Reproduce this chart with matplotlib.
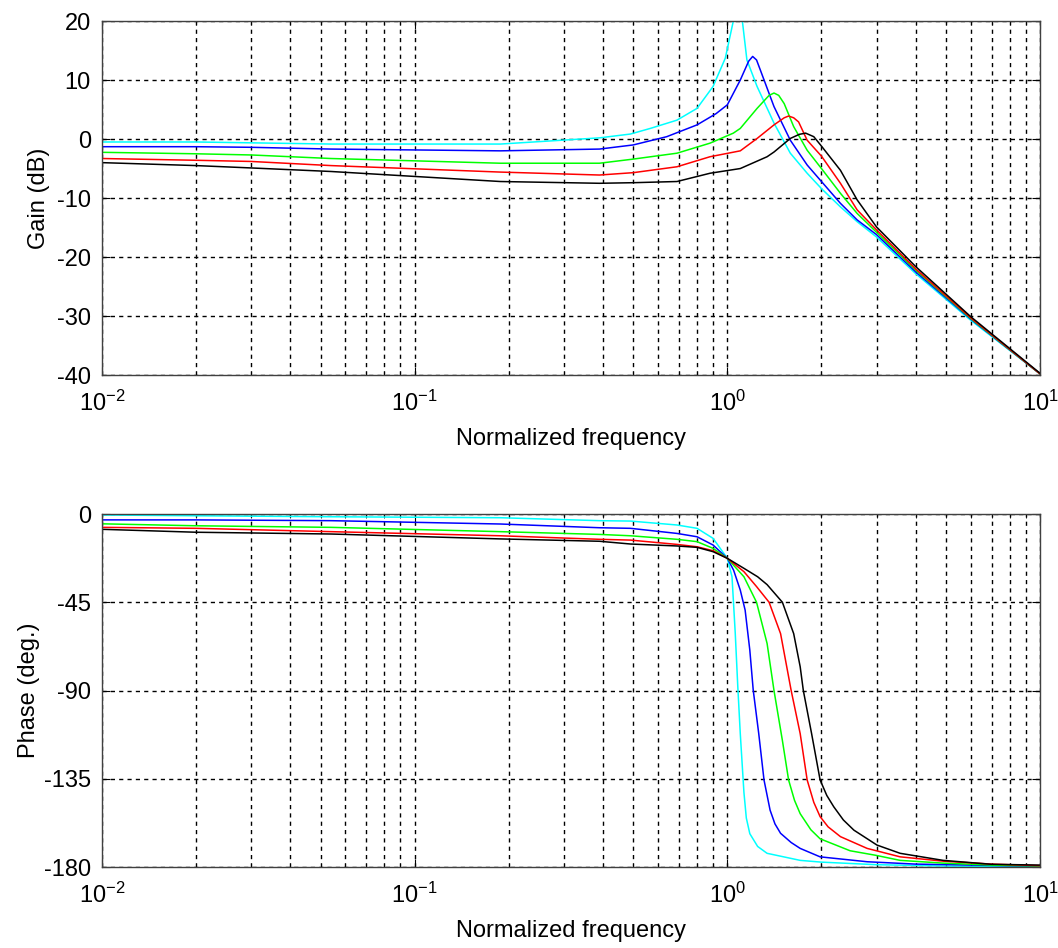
import matplotlib
matplotlib.use('Agg')
import matplotlib.pyplot as plt
from matplotlib.ticker import LogLocator, FixedLocator

plt.rcParams['font.family'] = ['Liberation Sans', 'DejaVu Sans']
plt.rcParams['mathtext.fontset'] = 'custom'
plt.rcParams['mathtext.rm'] = 'Liberation Sans'
plt.rcParams['mathtext.it'] = 'Liberation Sans'
plt.rcParams['axes.unicode_minus'] = False

# Gain curves (normalized frequency, dB)
cyan_gf = [0.01, 0.02, 0.054, 0.188, 0.39, 0.49, 0.567, 0.69, 0.80, 0.90, 0.985, 1.045, 1.08, 1.117,
           1.155, 1.245, 1.41, 1.59, 1.80, 2.0, 2.30, 2.60, 3.0, 4.0, 6.0, 10.0]
cyan_g = [-0.5, -0.5, -0.85, -0.85, 0.2, 0.85, 1.8, 3.2, 5.2, 8.9, 13.7, 20.0, 28.0, 20.0,
          13.4, 8.9, 2.7, -2.4, -5.8, -8.4, -11.5, -14.0, -16.6, -22.8, -30.7, -39.8]

blue_gf = [0.01, 0.02, 0.03, 0.054, 0.188, 0.39, 0.50, 0.64, 0.80, 0.92, 1.0, 1.10, 1.17, 1.205, 1.24,
           1.275, 1.41, 1.59, 1.80, 2.0, 2.30, 2.60, 3.0, 4.0, 6.0, 10.0]
blue_g = [-1.3, -1.3, -1.4, -1.7, -2.0, -1.7, -1.0, 0.4, 2.4, 4.3, 5.8, 10.0, 13.2, 14.0, 13.4,
          11.7, 5.5, -0.2, -4.4, -7.2, -10.9, -13.7, -16.2, -22.5, -30.5, -39.8]

green_gf = [0.01, 0.02, 0.03, 0.054, 0.188, 0.39, 0.50, 0.69, 0.88, 1.045, 1.10, 1.245, 1.36, 1.41, 1.46,
            1.52, 1.63, 1.80, 2.0, 2.30, 2.60, 3.0, 4.0, 6.0, 10.0]
green_g = [-2.25, -2.5, -2.7, -3.3, -4.1, -4.1, -3.4, -2.4, -0.7, 1.0, 1.8, 5.2, 7.4, 7.8, 7.4,
           6.0, 2.1, -1.9, -5.0, -9.2, -12.6, -15.8, -22.2, -30.4, -39.8]

red_gf = [0.01, 0.02, 0.03, 0.054, 0.188, 0.39, 0.50, 0.69, 0.88, 1.10, 1.245, 1.41, 1.52, 1.57, 1.63,
          1.69, 1.80, 2.0, 2.30, 2.60, 3.0, 4.0, 6.0, 10.0]
red_g = [-3.3, -3.6, -3.8, -4.5, -5.6, -6.1, -5.7, -4.7, -3.0, -2.0, 0.1, 2.4, 3.6, 3.9, 3.6,
         2.9, -0.2, -2.9, -7.5, -12.0, -15.4, -22.0, -30.3, -39.8]

black_gf = [0.01, 0.02, 0.03, 0.054, 0.188, 0.39, 0.50, 0.69, 0.88, 1.10, 1.34, 1.41, 1.59, 1.70, 1.78,
            1.89, 2.0, 2.30, 2.60, 3.0, 4.0, 6.0, 10.0]
black_g = [-4.0, -4.5, -4.9, -5.5, -7.2, -7.5, -7.4, -7.2, -5.8, -5.0, -3.0, -2.2, 0.1, 0.8, 1.0,
           0.4, -1.2, -5.3, -10.3, -14.9, -21.6, -30.1, -39.7]

# Phase curves (normalized frequency, degrees)
cyan_pf = [0.01, 0.02, 0.054, 0.188, 0.39, 0.49, 0.69, 0.80, 0.90, 1.0, 1.035, 1.06, 1.08, 1.10,
           1.13, 1.15, 1.18, 1.25, 1.34, 1.71, 2.0, 3.0, 5.0, 10.0]
cyan_p = [-0.5, -0.9, -1.4, -1.9, -3.4, -3.6, -5.6, -7.3, -12.4, -22.6, -32.0, -60.8, -88.0, -112.0,
          -142.0, -155.0, -163.0, -169.5, -173.0, -176.6, -177.5, -178.8, -179.5, -179.8]

blue_pf = [0.01, 0.02, 0.054, 0.188, 0.39, 0.49, 0.69, 0.80, 0.90, 1.0, 1.047, 1.10, 1.14, 1.18,
           1.21, 1.26, 1.31, 1.37, 1.42, 1.48, 1.60, 1.71, 1.98, 2.8, 4.0, 10.0]
blue_p = [-3.0, -3.0, -3.4, -5.1, -7.0, -7.3, -9.9, -11.6, -15.8, -22.6, -28.6, -38.8, -49.0, -69.4,
          -89.8, -111.9, -135.6, -151.0, -158.0, -162.8, -167.5, -170.5, -174.8, -177.3, -178.5, -179.6]

green_pf = [0.01, 0.02, 0.054, 0.188, 0.39, 0.49, 0.69, 0.80, 0.90, 1.0, 1.13, 1.24, 1.34, 1.41,
            1.50, 1.57, 1.64, 1.71, 1.85, 1.98, 2.47, 2.98, 3.57, 4.9, 7.0, 10.0]
green_p = [-5.0, -6.0, -6.8, -9.0, -10.4, -11.1, -12.9, -14.1, -17.5, -22.6, -32.0, -45.0, -66.0, -90.0,
           -115.5, -135.6, -146.0, -152.8, -161.0, -165.6, -171.7, -174.0, -176.6, -178.0, -179.0, -179.5]

red_pf = [0.01, 0.02, 0.054, 0.188, 0.39, 0.49, 0.69, 0.80, 0.90, 1.0, 1.13, 1.24, 1.36, 1.48,
          1.60, 1.71, 1.80, 1.89, 1.98, 2.10, 2.30, 2.80, 3.57, 4.9, 7.0, 10.0]
red_p = [-6.8, -7.3, -9.0, -11.1, -12.9, -13.3, -15.5, -16.7, -18.7, -22.6, -29.4, -37.0, -45.0, -61.0,
         -90.0, -112.0, -135.6, -147.0, -154.3, -159.5, -164.5, -170.5, -174.8, -177.0, -178.5, -179.3]

black_pf = [0.01, 0.02, 0.054, 0.188, 0.39, 0.49, 0.69, 0.80, 0.90, 1.0, 1.13, 1.25, 1.34, 1.50, 1.63,
            1.71, 1.75, 1.86, 1.98, 2.08, 2.19, 2.35, 2.54, 3.01, 3.57, 4.9, 7.0, 10.0]
black_p = [-7.8, -9.3, -10.2, -12.7, -13.9, -15.3, -16.3, -17.0, -19.2, -22.6, -27.7, -32.0, -36.0, -45.0, -61.0,
           -77.9, -90.0, -112.0, -135.6, -143.5, -149.3, -156.0, -161.2, -168.8, -173.0, -176.6, -178.6, -179.0]

gain_curves = [(cyan_gf, cyan_g, 'cyan'), (blue_gf, blue_g, 'blue'), (green_gf, green_g, '#00ff00'),
               (red_gf, red_g, 'red'), (black_gf, black_g, 'black')]
phase_curves = [(cyan_pf, cyan_p, 'cyan'), (blue_pf, blue_p, 'blue'), (green_pf, green_p, '#00ff00'),
                (red_pf, red_p, 'red'), (black_pf, black_p, 'black')]

gain_ticks = [-40, -30, -20, -10, 0, 10, 20]
phase_ticks = [-180, -135, -90, -45, 0]

fig = plt.figure(figsize=(10.58, 9.48), dpi=100)
ax1 = fig.add_axes([0.0964, 0.6044, 0.8866, 0.3734])
ax2 = fig.add_axes([0.0964, 0.0854, 0.8866, 0.3724])


def style_axis(ax, yticks, ylabel, ylabel_x):
    ax.set_xscale('log')
    ax.set_xlim(0.01, 10)
    ax.set_ylim(yticks[0], yticks[-1])
    ax.yaxis.set_major_locator(FixedLocator(yticks))
    ax.xaxis.set_major_locator(LogLocator(base=10, numticks=10))
    ax.xaxis.set_minor_locator(LogLocator(base=10, subs=range(2, 10), numticks=20))
    ax.grid(True, which='both', axis='x', color='black', linestyle=(0, (3, 3)), linewidth=1.0)
    ax.grid(True, which='major', axis='y', color='black', linestyle=(0, (3, 3)), linewidth=1.0)
    ax.tick_params(which='both', direction='in', top=True, right=True, labelsize=17)
    ax.tick_params(which='major', length=6, pad=8)
    ax.tick_params(which='minor', length=3)
    ax.tick_params(axis='x', which='major', pad=11)
    ax.set_xlabel('Normalized frequency', fontsize=17)
    ax.set_ylabel(ylabel, fontsize=17)
    ax.yaxis.set_label_coords(ylabel_x, 0.5)
    ax.xaxis.set_label_coords(0.5, -0.15)
    for s in ax.spines.values():
        s.set_linewidth(1.0)
        s.set_color('#404040')


for f, v, c in gain_curves:
    ax1.plot(f, v, color=c, linewidth=1.1)
for f, v, c in phase_curves:
    ax2.plot(f, v, color=c, linewidth=1.1)

style_axis(ax1, gain_ticks, 'Gain (dB)', -0.055)
style_axis(ax2, phase_ticks, 'Phase (deg.)', -0.066)

fig.savefig('out.png', dpi=100)
